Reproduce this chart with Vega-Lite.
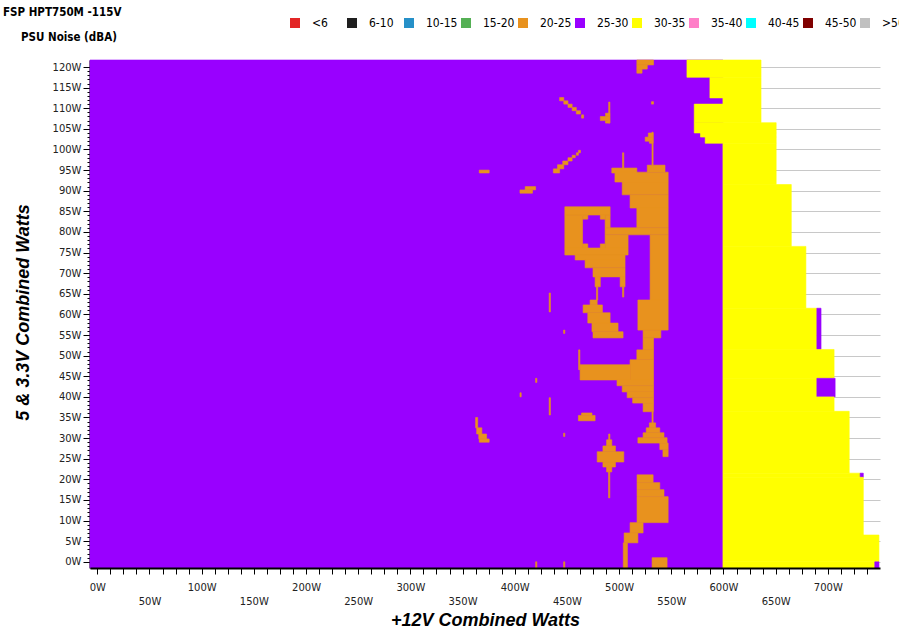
{
  "$schema": "https://vega.github.io/schema/vega-lite/v6.json",
  "width": 790,
  "height": 508,
  "autosize": {"type": "none"},
  "padding": {"left": 90, "top": 60, "right": 19, "bottom": 62},
  "background": "white",
  "config": {"view": {"stroke": null}},
  "title": {
    "text": "FSP HPT750M -115V",
    "subtitle": "\u200b\u00a0\u00a0\u00a0\u00a0\u00a0PSU Noise (dBA)",
    "anchor": "start",
    "frame": "group",
    "dx": -87,
    "offset": -26,
    "font": "DejaVu Sans Condensed, Liberation Sans Narrow, Arial Narrow, sans-serif",
    "fontSize": 11.5,
    "fontWeight": "bold",
    "color": "black",
    "subtitleFont": "DejaVu Sans Condensed, Liberation Sans Narrow, Arial Narrow, sans-serif",
    "subtitleFontSize": 11.5,
    "subtitleFontWeight": "bold",
    "subtitleColor": "black",
    "subtitlePadding": 13
  },
  "data": {
    "values": [
      {"x": -7, "x2": 599.5, "y": -1.5, "y2": 121.7, "c": "25-30"},
      {"x": 565, "x2": 636, "y": 117.5, "y2": 121.7, "c": "30-35"},
      {"x": 587, "x2": 636, "y": 112.5, "y2": 117.5, "c": "30-35"},
      {"x": 599.5, "x2": 636, "y": 111, "y2": 112.5, "c": "30-35"},
      {"x": 572, "x2": 636, "y": 106.5, "y2": 111, "c": "30-35"},
      {"x": 572, "x2": 650.5, "y": 104, "y2": 106.5, "c": "30-35"},
      {"x": 578, "x2": 650.5, "y": 103, "y2": 104, "c": "30-35"},
      {"x": 582.5, "x2": 650.5, "y": 101.5, "y2": 103, "c": "30-35"},
      {"x": 599.5, "x2": 650.5, "y": 91.5, "y2": 101.5, "c": "30-35"},
      {"x": 599.5, "x2": 665, "y": 76.5, "y2": 91.5, "c": "30-35"},
      {"x": 599.5, "x2": 679, "y": 61.5, "y2": 76.5, "c": "30-35"},
      {"x": 599.5, "x2": 689.5, "y": 51.5, "y2": 61.5, "c": "30-35"},
      {"x": 689.5, "x2": 693.5, "y": 51.5, "y2": 61.5, "c": "25-30"},
      {"x": 599.5, "x2": 706, "y": 44.5, "y2": 51.5, "c": "30-35"},
      {"x": 599.5, "x2": 689.5, "y": 40, "y2": 44.5, "c": "30-35"},
      {"x": 689.5, "x2": 707, "y": 40, "y2": 44.5, "c": "25-30"},
      {"x": 599.5, "x2": 706, "y": 36.5, "y2": 40, "c": "30-35"},
      {"x": 599.5, "x2": 720.5, "y": 21.5, "y2": 36.5, "c": "30-35"},
      {"x": 599.5, "x2": 731, "y": 20.5, "y2": 21.5, "c": "30-35"},
      {"x": 731, "x2": 734, "y": 20.5, "y2": 21.5, "c": "25-30"},
      {"x": 599.5, "x2": 734, "y": 6.5, "y2": 20.5, "c": "30-35"},
      {"x": 599.5, "x2": 749, "y": 0, "y2": 6.5, "c": "30-35"},
      {"x": 599.5, "x2": 745, "y": -1.5, "y2": 0, "c": "30-35"},
      {"x": 745, "x2": 749, "y": -1.5, "y2": 0, "c": "25-30"},

      {"x": 517, "x2": 533, "y": 120.5, "y2": 121.7, "c": "20-25"},
      {"x": 517, "x2": 527, "y": 119.5, "y2": 120.5, "c": "20-25"},
      {"x": 517, "x2": 522, "y": 118.5, "y2": 119.5, "c": "20-25"},
      {"x": 443, "x2": 447, "y": 111.8, "y2": 112.6, "c": "20-25"},
      {"x": 447, "x2": 451, "y": 111.0, "y2": 111.8, "c": "20-25"},
      {"x": 451, "x2": 455, "y": 110.2, "y2": 111.0, "c": "20-25"},
      {"x": 455, "x2": 459, "y": 109.4, "y2": 110.2, "c": "20-25"},
      {"x": 459, "x2": 463, "y": 108.6, "y2": 109.4, "c": "20-25"},
      {"x": 464, "x2": 466, "y": 107.6, "y2": 108.4, "c": "20-25"},
      {"x": 490, "x2": 491.2, "y": 106.4, "y2": 111.5, "c": "20-25"},
      {"x": 487, "x2": 491, "y": 108, "y2": 108.8, "c": "20-25"},
      {"x": 482, "x2": 491, "y": 107, "y2": 108, "c": "20-25"},
      {"x": 487, "x2": 491, "y": 106.4, "y2": 107, "c": "20-25"},
      {"x": 531, "x2": 533, "y": 111, "y2": 111.6, "c": "20-25"},
      {"x": 531.5, "x2": 532.6, "y": 96.2, "y2": 104.2, "c": "20-25"},
      {"x": 528, "x2": 532.6, "y": 103, "y2": 104, "c": "20-25"},
      {"x": 525, "x2": 532.6, "y": 102, "y2": 103, "c": "20-25"},
      {"x": 529, "x2": 532.6, "y": 101.5, "y2": 102, "c": "20-25"},
      {"x": 437, "x2": 443, "y": 94.3, "y2": 95.3, "c": "20-25"},
      {"x": 441, "x2": 447, "y": 95.3, "y2": 96.3, "c": "20-25"},
      {"x": 446, "x2": 451, "y": 96.3, "y2": 97.2, "c": "20-25"},
      {"x": 451, "x2": 455, "y": 97.2, "y2": 98.0, "c": "20-25"},
      {"x": 455, "x2": 458, "y": 98.0, "y2": 98.6, "c": "20-25"},
      {"x": 459, "x2": 461, "y": 98.6, "y2": 99.2, "c": "20-25"},
      {"x": 461, "x2": 463, "y": 99.2, "y2": 99.8, "c": "20-25"},
      {"x": 366, "x2": 375.5, "y": 94.3, "y2": 95.0, "c": "20-25"},
      {"x": 410, "x2": 420, "y": 90.2, "y2": 91, "c": "20-25"},
      {"x": 405, "x2": 417, "y": 89.4, "y2": 90.2, "c": "20-25"},
      {"x": 503.3, "x2": 504.5, "y": 95.5, "y2": 99.2, "c": "20-25"},

      {"x": 493, "x2": 517, "y": 94.3, "y2": 95.5, "c": "20-25"},
      {"x": 527, "x2": 544, "y": 94.5, "y2": 96.2, "c": "20-25"},
      {"x": 496, "x2": 547, "y": 92.1, "y2": 94.5, "c": "20-25"},
      {"x": 503, "x2": 547, "y": 89, "y2": 92.1, "c": "20-25"},
      {"x": 510.5, "x2": 547, "y": 85.8, "y2": 89, "c": "20-25"},
      {"x": 517, "x2": 547, "y": 81, "y2": 85.8, "c": "20-25"},
      {"x": 486.6, "x2": 547, "y": 79.3, "y2": 81, "c": "20-25"},
      {"x": 486.6, "x2": 508.6, "y": 76.1, "y2": 79.3, "c": "20-25"},
      {"x": 529.7, "x2": 547, "y": 63.5, "y2": 79.3, "c": "20-25"},

      {"x": 448, "x2": 491.4, "y": 84.1, "y2": 86.1, "c": "20-25"},
      {"x": 448, "x2": 465, "y": 76.1, "y2": 84.1, "c": "20-25"},
      {"x": 486.6, "x2": 491.4, "y": 81, "y2": 84.1, "c": "20-25"},
      {"x": 465, "x2": 470, "y": 83.1, "y2": 84.1, "c": "20-25"},
      {"x": 482, "x2": 486.6, "y": 83.1, "y2": 84.1, "c": "20-25"},
      {"x": 465, "x2": 470, "y": 76.1, "y2": 77.1, "c": "20-25"},
      {"x": 482, "x2": 486.6, "y": 76.1, "y2": 77.1, "c": "20-25"},
      {"x": 448, "x2": 508.6, "y": 74.4, "y2": 76.1, "c": "20-25"},
      {"x": 457.9, "x2": 505.7, "y": 73.2, "y2": 74.4, "c": "20-25"},
      {"x": 467.4, "x2": 505.7, "y": 71.3, "y2": 73.2, "c": "20-25"},
      {"x": 475, "x2": 505.7, "y": 69.1, "y2": 71.3, "c": "20-25"},
      {"x": 477, "x2": 482, "y": 66.7, "y2": 69.1, "c": "20-25"},
      {"x": 501, "x2": 505.7, "y": 66.7, "y2": 69.1, "c": "20-25"},
      {"x": 478.3, "x2": 479.5, "y": 63.5, "y2": 66.7, "c": "20-25"},
      {"x": 503.3, "x2": 504.5, "y": 64.2, "y2": 66.7, "c": "20-25"},

      {"x": 518, "x2": 547, "y": 56.2, "y2": 63.5, "c": "20-25"},
      {"x": 523, "x2": 540, "y": 54.3, "y2": 56.2, "c": "20-25"},
      {"x": 523, "x2": 533, "y": 51.4, "y2": 54.3, "c": "20-25"},
      {"x": 517, "x2": 533, "y": 49, "y2": 51.4, "c": "20-25"},
      {"x": 510.5, "x2": 533, "y": 44.1, "y2": 49, "c": "20-25"},
      {"x": 462.6, "x2": 510.5, "y": 44.1, "y2": 47.8, "c": "20-25"},
      {"x": 461.2, "x2": 462.4, "y": 46.6, "y2": 51.4, "c": "20-25"},
      {"x": 498, "x2": 533, "y": 42.7, "y2": 44.1, "c": "20-25"},
      {"x": 503, "x2": 533, "y": 41.2, "y2": 42.7, "c": "20-25"},
      {"x": 507.7, "x2": 533, "y": 39.8, "y2": 41.2, "c": "20-25"},
      {"x": 513, "x2": 533, "y": 38.5, "y2": 39.8, "c": "20-25"},
      {"x": 523, "x2": 533, "y": 36.4, "y2": 38.5, "c": "20-25"},
      {"x": 531.5, "x2": 532.6, "y": 33.7, "y2": 36.4, "c": "20-25"},

      {"x": 529, "x2": 535, "y": 32.5, "y2": 33.7, "c": "20-25"},
      {"x": 526, "x2": 539, "y": 31.3, "y2": 32.5, "c": "20-25"},
      {"x": 523, "x2": 543, "y": 30.1, "y2": 31.3, "c": "20-25"},
      {"x": 518, "x2": 546, "y": 28.8, "y2": 30.1, "c": "20-25"},
      {"x": 539, "x2": 547, "y": 27.2, "y2": 28.8, "c": "20-25"},
      {"x": 542, "x2": 547, "y": 25.5, "y2": 27.2, "c": "20-25"},
      {"x": 461, "x2": 477, "y": 34.2, "y2": 35.5, "c": "20-25"},
      {"x": 464, "x2": 474, "y": 35.5, "y2": 36.1, "c": "20-25"},
      {"x": 362.5, "x2": 364.5, "y": 32.5, "y2": 35, "c": "20-25"},
      {"x": 363.5, "x2": 368.5, "y": 31, "y2": 32.5, "c": "20-25"},
      {"x": 365.5, "x2": 373, "y": 29.8, "y2": 31, "c": "20-25"},
      {"x": 366, "x2": 375.5, "y": 29, "y2": 29.8, "c": "20-25"},
      {"x": 433, "x2": 434.2, "y": 35.6, "y2": 39.8, "c": "20-25"},
      {"x": 433, "x2": 434.2, "y": 60.6, "y2": 65.2, "c": "20-25"},
      {"x": 446.8, "x2": 448, "y": 55.4, "y2": 56.2, "c": "20-25"},
      {"x": 446.8, "x2": 448, "y": 30.4, "y2": 31.2, "c": "20-25"},
      {"x": 420, "x2": 421.2, "y": 43.5, "y2": 44.5, "c": "20-25"},
      {"x": 405, "x2": 406.2, "y": 40, "y2": 41, "c": "20-25"},

      {"x": 472.2, "x2": 479, "y": 62.3, "y2": 63.5, "c": "20-25"},
      {"x": 465.5, "x2": 484, "y": 60.4, "y2": 62.3, "c": "20-25"},
      {"x": 470, "x2": 491.4, "y": 57.9, "y2": 60.4, "c": "20-25"},
      {"x": 474, "x2": 499, "y": 55.8, "y2": 57.9, "c": "20-25"},
      {"x": 475, "x2": 503.8, "y": 54.3, "y2": 55.8, "c": "20-25"},

      {"x": 488, "x2": 493, "y": 28.1, "y2": 29.6, "c": "20-25"},
      {"x": 484.5, "x2": 496.5, "y": 26.7, "y2": 28.1, "c": "20-25"},
      {"x": 479, "x2": 504.5, "y": 24.2, "y2": 26.7, "c": "20-25"},
      {"x": 484.5, "x2": 496.5, "y": 23, "y2": 24.2, "c": "20-25"},
      {"x": 488, "x2": 493, "y": 21.8, "y2": 23, "c": "20-25"},
      {"x": 490, "x2": 491.2, "y": 29.6, "y2": 31, "c": "20-25"},
      {"x": 489.9, "x2": 491.1, "y": 15.5, "y2": 21.8, "c": "20-25"},

      {"x": 517.2, "x2": 532.6, "y": 19.2, "y2": 21.1, "c": "20-25"},
      {"x": 517.2, "x2": 539, "y": 17.5, "y2": 19.2, "c": "20-25"},
      {"x": 517.2, "x2": 543, "y": 15.8, "y2": 17.5, "c": "20-25"},
      {"x": 517.2, "x2": 547, "y": 9.5, "y2": 15.8, "c": "20-25"},
      {"x": 510.5, "x2": 523, "y": 7, "y2": 9.5, "c": "20-25"},
      {"x": 504.8, "x2": 518, "y": 4.6, "y2": 7, "c": "20-25"},
      {"x": 504, "x2": 508, "y": -1.5, "y2": 4.6, "c": "20-25"},
      {"x": 531.6, "x2": 546, "y": -1.5, "y2": 1.0, "c": "20-25"},
      {"x": 420, "x2": 421.2, "y": -1.5, "y2": 0, "c": "20-25"},
      {"x": 446.8, "x2": 448, "y": -1.5, "y2": 0, "c": "20-25"}
    ]
  },
  "mark": {"type": "rect", "strokeWidth": 0.6},
  "encoding": {
    "x": {
      "field": "x",
      "type": "quantitative",
      "scale": {"domain": [-7, 750], "nice": false, "zero": false},
      "axis": {
        "title": "+12V Combined Watts",
        "titleFont": "Liberation Sans, Arial, sans-serif",
        "titleFontSize": 18,
        "titleFontWeight": "bold",
        "titleFontStyle": "italic",
        "titleColor": "black",
        "titleX": 395,
        "titleY": 57,
        "titleBaseline": "alphabetic",
        "values": [0, 12.5, 25, 37.5, 50, 62.5, 75, 87.5, 100, 112.5, 125, 137.5, 150, 162.5, 175, 187.5, 200, 212.5, 225, 237.5, 250, 262.5, 275, 287.5, 300, 312.5, 325, 337.5, 350, 362.5, 375, 387.5, 400, 412.5, 425, 437.5, 450, 462.5, 475, 487.5, 500, 512.5, 525, 537.5, 550, 562.5, 575, 587.5, 600, 612.5, 625, 637.5, 650, 662.5, 675, 687.5, 700, 712.5, 725, 737.5],
        "labelExpr": "datum.value % 50 === 0 ? datum.value + 'W' : ''",
        "labelPadding": {"condition": {"test": "datum.value % 100 === 50", "value": 22}, "value": 8},
        "labelFont": "DejaVu Sans, Verdana, sans-serif",
        "labelFontSize": 10,
        "labelColor": "#222",
        "labelOverlap": false,
        "labelFlush": false,
        "labelBound": false,
        "tickSize": 6,
        "tickColor": "black",
        "tickWidth": 1,
        "domainColor": "black",
        "domainWidth": 2,
        "grid": false,
        "zindex": 1
      }
    },
    "x2": {"field": "x2"},
    "y": {
      "field": "y",
      "type": "quantitative",
      "scale": {"domain": [-1.5, 121.7], "nice": false, "zero": false},
      "axis": {
        "title": "5 & 3.3V Combined Watts",
        "titleFont": "Liberation Sans, Arial, sans-serif",
        "titleFontSize": 18,
        "titleFontWeight": "bold",
        "titleFontStyle": "italic",
        "titleColor": "black",
        "titleX": -58,
        "titleY": 252,
        "values": [0,1,2,3,4,5,6,7,8,9,10,11,12,13,14,15,16,17,18,19,20,21,22,23,24,25,26,27,28,29,30,31,32,33,34,35,36,37,38,39,40,41,42,43,44,45,46,47,48,49,50,51,52,53,54,55,56,57,58,59,60,61,62,63,64,65,66,67,68,69,70,71,72,73,74,75,76,77,78,79,80,81,82,83,84,85,86,87,88,89,90,91,92,93,94,95,96,97,98,99,100,101,102,103,104,105,106,107,108,109,110,111,112,113,114,115,116,117,118,119,120],
        "labelExpr": "datum.value % 5 === 0 ? datum.value + 'W' : ''",
        "labelFont": "DejaVu Sans, Verdana, sans-serif",
        "labelFontSize": 10,
        "labelColor": "#222",
        "labelPadding": 2,
        "labelOverlap": false,
        "labelBound": false,
        "tickSize": {"condition": {"test": "datum.value % 5 === 0", "value": 7}, "value": 3},
        "tickColor": "black",
        "tickWidth": 1,
        "domainColor": "black",
        "domainWidth": 2,
        "grid": true,
        "gridColor": "#c8c8c8",
        "gridWidth": 1,
        "gridOpacity": {"condition": {"test": "datum.value % 5 === 0", "value": 1}, "value": 0},
        "zindex": 0
      }
    },
    "y2": {"field": "y2"},
    "color": {
      "field": "c",
      "type": "nominal",
      "scale": {
        "domain": ["<6", "6-10", "10-15", "15-20", "20-25", "25-30", "30-35", "35-40", "40-45", "45-50", ">50"],
        "range": ["#E32626", "#1F1F1F", "#2690C8", "#55B055", "#E8921E", "#9900FF", "#FFFF00", "#FF7FC8", "#00FFFF", "#800000", "#C0C0C0"]
      },
      "legend": {
        "title": null,
        "orient": "none",
        "legendX": 199,
        "legendY": -43,
        "direction": "horizontal",
        "columns": 11,
        "gridAlign": "all",
        "symbolType": "square",
        "symbolSize": 100,
        "symbolStrokeWidth": 0,
        "labelFont": "Liberation Sans Narrow, Arial Narrow, DejaVu Sans Condensed, sans-serif",
        "labelFontSize": 12,
        "labelColor": "black",
        "labelOffset": 11,
        "columnPadding": 2
      }
    },
    "stroke": {
      "field": "c",
      "type": "nominal",
      "scale": {
        "domain": ["<6", "6-10", "10-15", "15-20", "20-25", "25-30", "30-35", "35-40", "40-45", "45-50", ">50"],
        "range": ["#E32626", "#1F1F1F", "#2690C8", "#55B055", "#E8921E", "#9900FF", "#FFFF00", "#FF7FC8", "#00FFFF", "#800000", "#C0C0C0"]
      },
      "legend": null
    }
  }
}
